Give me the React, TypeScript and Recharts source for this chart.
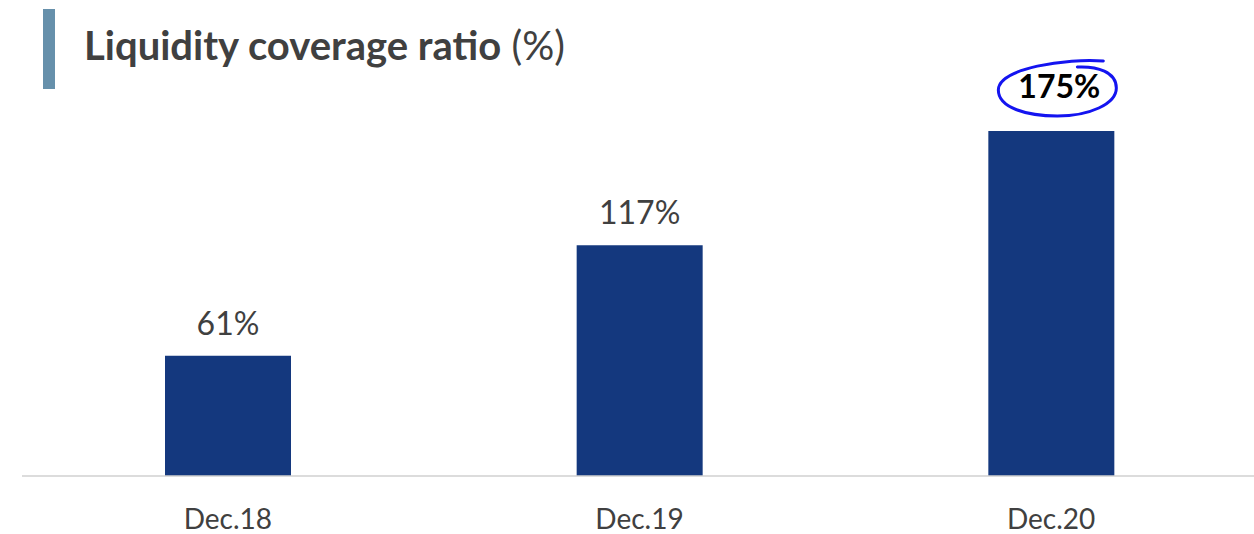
import { Bar, BarChart, LabelList, XAxis, YAxis } from 'recharts'

const CATEGORIES = ['Dec.18', 'Dec.19', 'Dec.20']
const LCR_VALUES = [61, 117, 175]
// The latest period gets the bold label with the hand-drawn circle round it.
const HIGHLIGHTED = 'Dec.20'

const data = CATEGORIES.map((period, i) => ({ period, lcr: LCR_VALUES[i] }))

const FONT = 'Lato, "Open Sans", sans-serif'
const BAR_COLOR = '#14387e'
const TEXT_COLOR = '#404040'

function ValueLabel(props: any) {
  const { x, y, width, value, index } = props
  if (x == null || y == null) return null
  const cx = x + width / 2
  const highlighted = data[index]?.period === HIGHLIGHTED
  if (!highlighted) {
    return (
      <text x={cx} y={y - 21} textAnchor="middle" fontSize={32} fontFamily={FONT} fill={TEXT_COLOR}>
        {value}%
      </text>
    )
  }
  // loose marker-pen loop, slightly off-centre like the original
  const ex = cx + 6
  const ey = y - 41
  const loop = [
    `M ${ex + 46} ${ey - 29}`,
    `C ${ex + 10} ${ey - 32}, ${ex - 59} ${ey - 22}, ${ex - 59} ${ey}`,
    `C ${ex - 59} ${ey + 18}, ${ex - 30} ${ey + 26}, ${ex} ${ey + 26}`,
    `C ${ex + 32} ${ey + 26}, ${ex + 59} ${ey + 14}, ${ex + 59} ${ey - 2}`,
    `C ${ex + 59} ${ey - 18}, ${ex + 40} ${ey - 24}, ${ex + 20} ${ey - 23}`,
  ].join(' ')
  return (
    <g>
      <text x={cx + 8} y={y - 33} textAnchor="middle" fontSize={32} fontWeight={700} fontFamily={FONT} fill="#000">
        {value}%
      </text>
      <path d={loop} fill="none" stroke="#1414f0" strokeWidth={3} strokeLinecap="round" />
    </g>
  )
}

export default function App() {
  return (
    <div style={{ position: 'absolute', left: 0, top: 0, width: 1254, height: 534, background: '#fff', fontFamily: FONT }}>
      <div style={{ position: 'absolute', left: 43, top: 9, width: 12, height: 80, background: '#6690ab' }} />
      <div
        style={{
          position: 'absolute',
          left: 84,
          top: 21,
          fontSize: 40,
          lineHeight: '48px',
          color: TEXT_COLOR,
          whiteSpace: 'nowrap',
        }}
      >
        <span style={{ fontWeight: 700 }}>Liquidity coverage ratio</span> (%)
      </div>
      <BarChart
        width={1254}
        height={534}
        data={data}
        margin={{ top: 131, right: -3, bottom: 0, left: 22 }}
        style={{ position: 'absolute', left: 0, top: 0 }}
      >
        <XAxis
          dataKey="period"
          height={58}
          tickLine={false}
          axisLine={{ stroke: '#d0d0d0', strokeWidth: 1.5 }}
          tickMargin={27}
          tick={{ fontSize: 28, fill: TEXT_COLOR, fontFamily: FONT }}
        />
        <YAxis hide domain={[0, 175]} />
        <Bar dataKey="lcr" fill={BAR_COLOR} barSize={126} isAnimationActive={false}>
          <LabelList dataKey="lcr" content={ValueLabel} />
        </Bar>
      </BarChart>
    </div>
  )
}
